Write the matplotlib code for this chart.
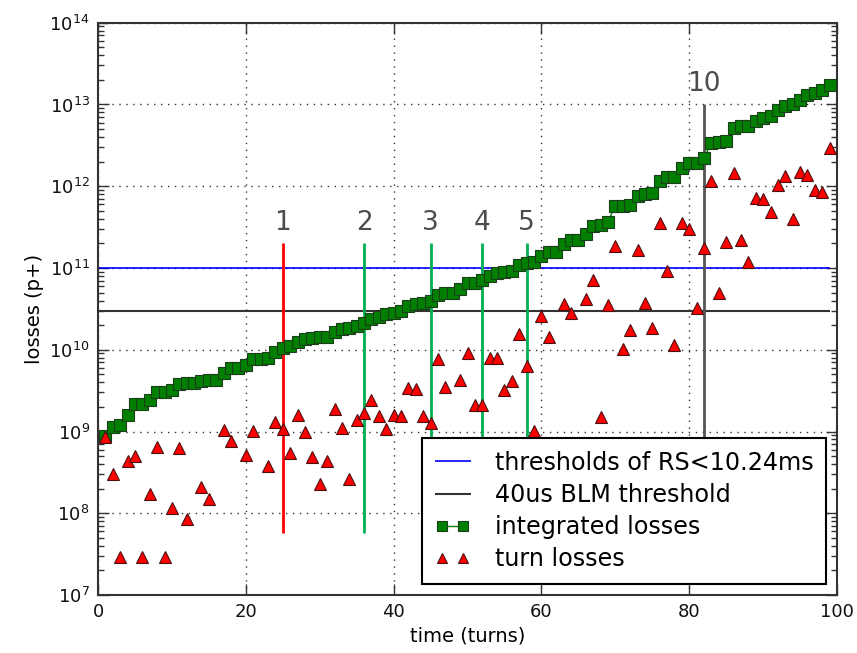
import numpy as np
import matplotlib
matplotlib.use("Agg")
import matplotlib.pyplot as plt
from matplotlib.ticker import LogLocator

nan = np.nan

# turn number of every point
turns = np.arange(1, 100)

# losses in a single turn (nan = no loss recorded)
turn_losses = [
    8.5e8, 3.0e8, 2.9e7, 4.4e8, 5.0e8, 2.9e7, 1.7e8, 6.5e8, 2.9e7, 1.15e8,
    6.2e8, 8.5e7, nan, 2.1e8, 1.5e8, nan, 1.05e9, 7.6e8, nan, 5.2e8,
    1.02e9, nan, 3.8e8, 1.3e9, 1.07e9, 5.5e8, 1.6e9, 9.8e8, 4.9e8, 2.3e8,
    4.4e8, 1.9e9, 1.1e9, 2.6e8, 1.4e9, 1.7e9, 2.45e9, 1.55e9, 1.07e9, 1.6e9,
    1.55e9, 3.4e9, 3.3e9, 1.55e9, 1.26e9, 7.6e9, 3.5e9, nan, 4.3e9, 9.1e9,
    2.1e9, 2.1e9, 7.9e9, 7.9e9, 3.2e9, 4.1e9, 1.55e10, 6.3e9, 1.02e9, 2.6e10,
    1.45e10, nan, 3.6e10, 2.8e10, nan, 4.2e10, 7.1e10, 1.5e9, 3.5e10, 1.86e11,
    1.02e10, 1.74e10, 1.66e11, 3.7e10, 1.86e10, 3.6e11, 9.1e10, 1.15e10, 3.6e11, 3.0e11,
    3.2e10, 1.74e11, 1.17e12, 5.0e10, 2.1e11, 1.45e12, 2.2e11, 1.2e11, 7.2e11, 6.9e11,
    4.9e11, 1.05e12, 1.32e12, 4.0e11, 1.5e12, 1.38e12, 8.9e11, 8.5e11, 2.9e12,
]

# integrated losses
integrated_losses = [
    8.7e8, 1.15e9, 1.2e9, 1.6e9, 2.2e9, 2.2e9, 2.4e9, 3.0e9, 3.0e9, 3.2e9,
    3.8e9, 3.9e9, 3.9e9, 4.1e9, 4.3e9, 4.3e9, 5.2e9, 6.0e9, 6.0e9, 6.5e9,
    7.8e9, 7.8e9, 8.0e9, 9.3e9, 1.05e10, 1.1e10, 1.26e10, 1.35e10, 1.38e10, 1.45e10,
    1.45e10, 1.66e10, 1.78e10, 1.82e10, 1.95e10, 2.1e10, 2.35e10, 2.55e10, 2.7e10, 2.8e10,
    3.0e10, 3.4e10, 3.6e10, 3.7e10, 3.9e10, 4.7e10, 5.0e10, 5.0e10, 5.5e10, 6.5e10,
    6.6e10, 7.1e10, 7.9e10, 8.7e10, 8.9e10, 9.3e10, 1.1e11, 1.15e11, 1.17e11, 1.4e11,
    1.55e11, 1.58e11, 1.95e11, 2.2e11, 2.2e11, 2.6e11, 3.3e11, 3.4e11, 3.7e11, 5.8e11,
    5.8e11, 5.9e11, 7.6e11, 8.1e11, 8.3e11, 1.17e12, 1.29e12, 1.29e12, 1.66e12, 1.95e12,
    1.95e12, 2.2e12, 3.4e12, 3.5e12, 3.6e12, 5.1e12, 5.4e12, 5.4e12, 6.2e12, 6.9e12,
    7.2e12, 8.5e12, 9.5e12, 1.02e13, 1.15e13, 1.29e13, 1.38e13, 1.5e13, 1.74e13,
]

rs_threshold = 1e11
blm_threshold = 3e10
threshold_span = (0, 99)

# marked turns: (turn, label, colour, top of line)
markers_t = [25, 36, 45, 52, 58, 82]
markers_lbl = ["1", "2", "3", "4", "5", "10"]
markers_col = ["#ff0000", "#00b050", "#00b050", "#00b050", "#00b050", "#555555"]
markers_top = [2e11, 2e11, 2e11, 2e11, 2e11, 1e13]
marker_bottom = 5.7e7

plt.rcParams["font.family"] = "DejaVu Sans"

fig = plt.figure(figsize=(8.57, 6.53), dpi=100, facecolor="white")
ax = fig.add_axes([0.1144, 0.0888, 0.8623, 0.8764])

ax.hlines(rs_threshold, *threshold_span, colors="blue", lw=1.2,
          label="thresholds of RS<10.24ms", zorder=2)
ax.hlines(blm_threshold, *threshold_span, colors="#333333", lw=1.5,
          label="40us BLM threshold", zorder=2)

ax.plot(turns, integrated_losses, color="green", lw=1, marker="s", ms=8.5,
        mfc="#007f00", mec="#1a3d1a", mew=0.8, label="integrated losses", zorder=4)
ax.plot(turns, turn_losses, ls="None", marker="^", ms=8.5, mfc="red",
        mec="#4a1010", mew=0.8, label="turn losses", zorder=4)

for t, lbl, c, top in zip(markers_t, markers_lbl, markers_col, markers_top):
    ax.vlines(t, marker_bottom, top, colors=c, lw=2, zorder=3)
    ax.text(t, top * 1.22, lbl, ha="center", va="bottom", fontsize=19,
            color="#4d4d4d")

ax.set_yscale("log")
ax.set_xlim(0, 100)
ax.set_ylim(1e7, 1e14)
ax.set_xticks(np.arange(0, 101, 20))
ax.yaxis.set_major_locator(LogLocator(base=10, numticks=20))
ax.yaxis.set_minor_locator(LogLocator(base=10, subs=np.arange(2, 10), numticks=20))

ax.grid(True, which="major", ls=(0, (1, 4)), color="#333333", lw=1)
ax.tick_params(which="both", direction="in", top=True, right=True,
               colors="#333333", labelcolor="#111111")
ax.tick_params(which="major", length=8, width=1, labelsize=13, pad=6)
ax.tick_params(which="minor", length=4, width=1)
for s in ax.spines.values():
    s.set_linewidth(1.5)
    s.set_color("#333333")

ax.set_xlabel("time (turns)", fontsize=14)
ax.set_ylabel("losses (p+)", fontsize=14)

leg = ax.legend(loc="lower right", fontsize=17.2, numpoints=2, fancybox=False,
                framealpha=1, edgecolor="black", handlelength=1.5,
                handletextpad=1.0, labelspacing=0.34, borderpad=0.55,
                borderaxespad=0.45, markerscale=0.85)
leg.get_frame().set_linewidth(1.5)
leg.set_zorder(10)

fig.savefig("out.png", dpi=100, facecolor="white")
